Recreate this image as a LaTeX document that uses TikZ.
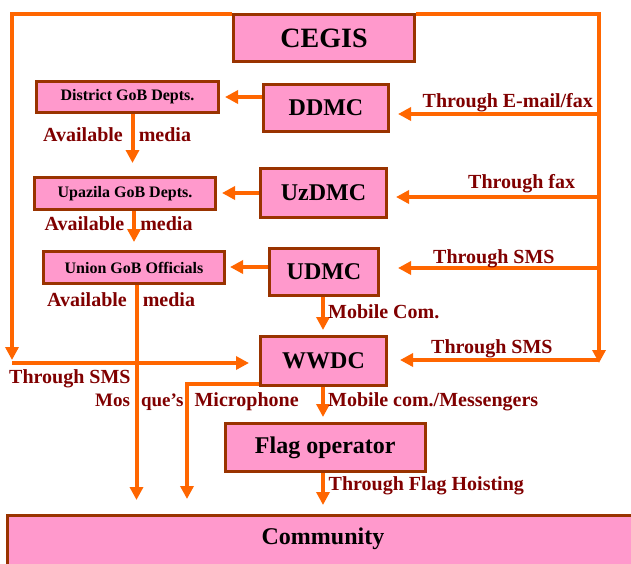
\documentclass[tikz,border=0pt]{standalone}
\usepackage{fontspec}
\setmainfont{Liberation Serif}
\usetikzlibrary{arrows.meta,backgrounds,calc}
\definecolor{lineor}{HTML}{FF6600}
\definecolor{boxfill}{HTML}{FF99CC}
\definecolor{boxedge}{HTML}{993300}
\definecolor{lblred}{HTML}{800000}
\begin{document}
\begin{tikzpicture}[x=1pt,y=-1pt,
  box/.style={draw=boxedge, line width=3pt, fill=boxfill, inner sep=0pt, text=black},
  hugetxt/.style={font=\fontsize{28}{28}\selectfont\bfseries},
  bigtxt/.style={font=\fontsize{24}{24}\selectfont\bfseries},
  smalltxt/.style={font=\fontsize{16}{16}\selectfont\bfseries},
  arr/.style={draw=lineor, line width=4pt, -{Triangle[length=13pt,width=13pt]}},
  lbl/.style={text=lblred, font=\fontsize{20}{20}\selectfont\bfseries, anchor=base west, inner sep=0pt}]
\clip (0,0) rectangle (631,563);

% boxes
\node[box, hugetxt, minimum width=181pt, minimum height=47pt] (cegis) at (324,38) {CEGIS};
\node[box, smalltxt, minimum width=182pt, minimum height=31pt] (dist) at (127.5,97) {District GoB Depts.};
\node[box, bigtxt, minimum width=125pt, minimum height=47pt] (ddmc) at (326,108) {DDMC};
\node[box, smalltxt, minimum width=181pt, minimum height=32pt] (upaz) at (125,193.5) {Upazila GoB Depts.};
\node[box, bigtxt, minimum width=126pt, minimum height=49pt] (uzdmc) at (323.5,193) {UzDMC};
\node[box, smalltxt, minimum width=181pt, minimum height=32pt] (union) at (134,267.5) {Union GoB Officials};
\node[box, bigtxt, minimum width=109pt, minimum height=47pt] (udmc) at (324,272) {UDMC};
\node[box, bigtxt, minimum width=126pt, minimum height=49pt] (wwdc) at (323.5,361) {WWDC};
\node[box, bigtxt, minimum width=199.5pt, minimum height=48pt] (flag) at (325.25,447.5) {Flag operator};
\node[box, minimum width=651pt, minimum height=93pt] (comm) at (333,562) {};
\node[bigtxt, inner sep=0pt] (commtext) at (323,539) {Community};

% connectors
\begin{scope}[on background layer]
\fill[white] (0,0) rectangle (631,563);
\coordinate (tl) at (12,14);
\coordinate (tr) at (599,14);
\coordinate (bl) at (12,363);
\coordinate (br) at (599,360);
\draw[arr] (cegis.west |- tl) -- (tl) -- ([yshift=3pt]bl);
\draw[arr] (cegis.east |- tr) -- (tr) -- ([yshift=-3pt]br);
\draw[arr, shorten >=10pt] (bl) -- (bl -| wwdc.west);
\draw[arr, shorten >=12pt] (br) -- (br -| wwdc.east);

\coordinate (r1) at (599,114);
\coordinate (r2) at (599,197);
\coordinate (r3) at (599,268);
\draw[arr, shorten >=8pt] (r1) -- (r1 -| ddmc.east);
\draw[arr, shorten >=8pt] (r2) -- (r2 -| uzdmc.east);
\draw[arr, shorten >=18pt] (r3) -- (r3 -| udmc.east);

\coordinate (a1) at (0,97);
\coordinate (a2) at (0,193);
\coordinate (a3) at (0,267);
\draw[arr, shorten >=5pt] (a1 -| ddmc.west) -- (a1 -| dist.east);
\draw[arr, shorten >=5pt] (a2 -| uzdmc.west) -- (a2 -| upaz.east);
\draw[arr, shorten >=4pt] (a3 -| udmc.west) -- (a3 -| union.east);

\coordinate (v1) at (132.5,0);
\coordinate (v2) at (134,0);
\coordinate (v3) at (136.5,0);
\coordinate (v4) at (323,0);
\draw[arr, shorten >=13pt] (v1 |- dist.south) -- (v1 |- upaz.north);
\draw[arr, shorten >=8pt] (v2 |- upaz.south) -- (v2 |- union.north);
\draw[arr, shorten >=14pt] (v3 |- union.south) -- (v3 |- comm.north);
\draw[arr, shorten >=5pt] (v4 |- udmc.south) -- (v4 |- wwdc.north);
\draw[arr, shorten >=5pt] (v4 |- wwdc.south) -- (v4 |- flag.north);
\draw[arr, shorten >=9pt] (v4 |- flag.south) -- (v4 |- comm.north);

\coordinate (m) at (187,384);
\draw[arr, shorten >=15pt] (m -| wwdc.west) -- (m) -- (m |- comm.north);
\end{scope}

% labels
\node[lbl] (l1) at (422.5,107) {Through E-mail/fax};
\node[lbl] (l2) at (43,141) {Available\hspace{16pt}media};
\node[lbl] (l3) at (468,188) {Through fax};
\node[lbl] (l4) at (44.5,230) {Available\hspace{16pt}media};
\node[lbl] (l5) at (433,263) {Through SMS};
\node[lbl] (l6) at (47,306) {Available\hspace{16pt}media};
\node[lbl] (l7) at (328,318) {Mobile Com.};
\node[lbl] (l8) at (431,353) {Through SMS};
\node[lbl] (l9) at (9,383) {Through SMS};
\node[lbl] (l10) at (95,406) {{\fontsize{19}{19}\selectfont Mos\hspace{11pt}que’s}\hspace{11pt}Microphone};
\node[lbl] (l11) at (328,406) {Mobile com./Messengers};
\node[lbl] (l12) at (328.5,490) {Through Flag Hoisting};
\end{tikzpicture}
\end{document}
